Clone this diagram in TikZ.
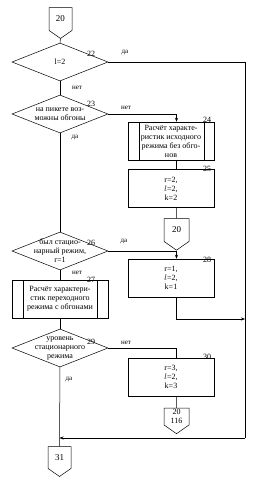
\documentclass[tikz,border=0pt]{standalone}
\usepackage{fontspec}
\setmainfont{Liberation Serif}
\usetikzlibrary{shapes.geometric,shapes.symbols,arrows.meta,positioning}

\begin{document}
\begin{tikzpicture}[x=1pt, y=-1pt, every node/.style={font=\fontsize{8}{9}\selectfont},
  >={Stealth[length=4pt,width=3pt]}, line width=0.5pt]
  \tikzset{
    decision/.style={diamond, draw, minimum width=96pt, minimum height=38pt, inner sep=0pt},
    dtext/.style={align=center, inner sep=0pt},
    procbox/.style={draw, minimum width=86pt, minimum height=38pt, align=center, inner sep=1pt},
    offpage/.style={signal, signal to=south, signal pointer angle=110, draw, minimum width=23pt,
      minimum height=26pt, inner sep=0pt, align=center, font=\fontsize{9}{10}\selectfont},
    num/.style={inner sep=0pt},
    ans/.style={font=\fontsize{7}{8}\selectfont, inner sep=0pt}
  }
  \useasboundingbox (0,0) rectangle (260,480);

  % main column
  \node[offpage] (c20) at (60.5,19) {20};
  \node[decision, label={[dtext]center:l=2}] (d22) at (60,62) {};
  \node[decision, label={[dtext]center:{на пикете воз-\\можны обгоны}}] (d23) at (60,114) {};
  \node[decision, label={[dtext]center:{был стацио-\\нарный режим,\\r=1}}] (d26) at (60,251) {};
  \node[procbox, minimum width=96pt] (b27) at (60,299) {Расчёт характери-\\стик переходного\\режима с обгонами};
  \node[decision, label={[dtext]center:{уровень\\стационарного\\режима}}] (d29) at (60,348) {};
  \node[offpage, minimum height=25pt] (c31) at (59.5,457.5) {31};

  % right column
  \node[procbox] (b24) at (171,141) {Расчёт характе-\\ристик исходного\\режима без обго-\\нов};
  \node[procbox] (b25) at (171,188.5) {r=2,\\$l$=2,\\k=2};
  \node[offpage, minimum width=25pt] (c20b) at (176.5,230) {20};
  \node[procbox] (b28) at (171,278) {r=1,\\$l$=2,\\k=1};
  \node[procbox] (b30) at (171,377) {r=3,\\$l$=2,\\k=3};
  \node[offpage, minimum width=25pt, minimum height=21pt, font=\fontsize{8}{9}\selectfont] (c116) at (176.5,416.5) {20\\116};

  % side bars of the predefined processes
  \draw ([xshift=11]b24.north west) -- ([xshift=11]b24.south west);
  \draw ([xshift=-10]b24.north east) -- ([xshift=-10]b24.south east);
  \draw ([xshift=11]b27.north west) -- ([xshift=11]b27.south west);
  \draw ([xshift=-11]b27.north east) -- ([xshift=-11]b27.south east);

  % numbers
  \node[num] at (91,54) {22};
  \node[num] at (91,104) {23};
  \node[num] at (207,120) {24};
  \node[num] at (207,169) {25};
  \node[num] at (91,243) {26};
  \node[num] at (91,280) {27};
  \node[num] at (207,260) {28};
  \node[num] at (91,342) {29};
  \node[num] at (207,357) {30};

  % answers
  \node[ans] at (125,53) {да};
  \node[ans] at (77,88) {нет};
  \node[ans] at (126,108) {нет};
  \node[ans] at (75,138) {да};
  \node[ans] at (124,242) {да};
  \node[ans] at (77,273) {нет};
  \node[ans] at (126,343) {нет};
  \node[ans] at (69,380) {да};

  \coordinate (rt) at (245,62);
  \coordinate (rm) at (245,319);
  \coordinate (rb) at (245,438);

  % connectors
  \draw (c20) -- (d22);
  \draw (d22) -- (d23);
  \draw (d23) -- (d26);
  \draw (d26) -- (b27);
  \draw (b27) -- (d29);
  \draw (d29) -- (c31);
  \draw (d22.east) -- (rt) -- (rb);
  \draw[->] (rb) -- (rb -| c31.north);
  \draw[->] (d23.east) -| (b24.north -| c20b);
  \draw (b24.south -| c20b) -- (b25.north -| c20b);
  \draw (b25.south -| c20b) -- (c20b);
  \draw[->] (d26.east) -| (b28.north -| c20b);
  \draw[->] (b28.south -| c20b) |- (rm);
  \draw (d29.east) -| (b30.north -| c116);
  \draw (b30.south -| c116) -- (c116);
\end{tikzpicture}
\end{document}
